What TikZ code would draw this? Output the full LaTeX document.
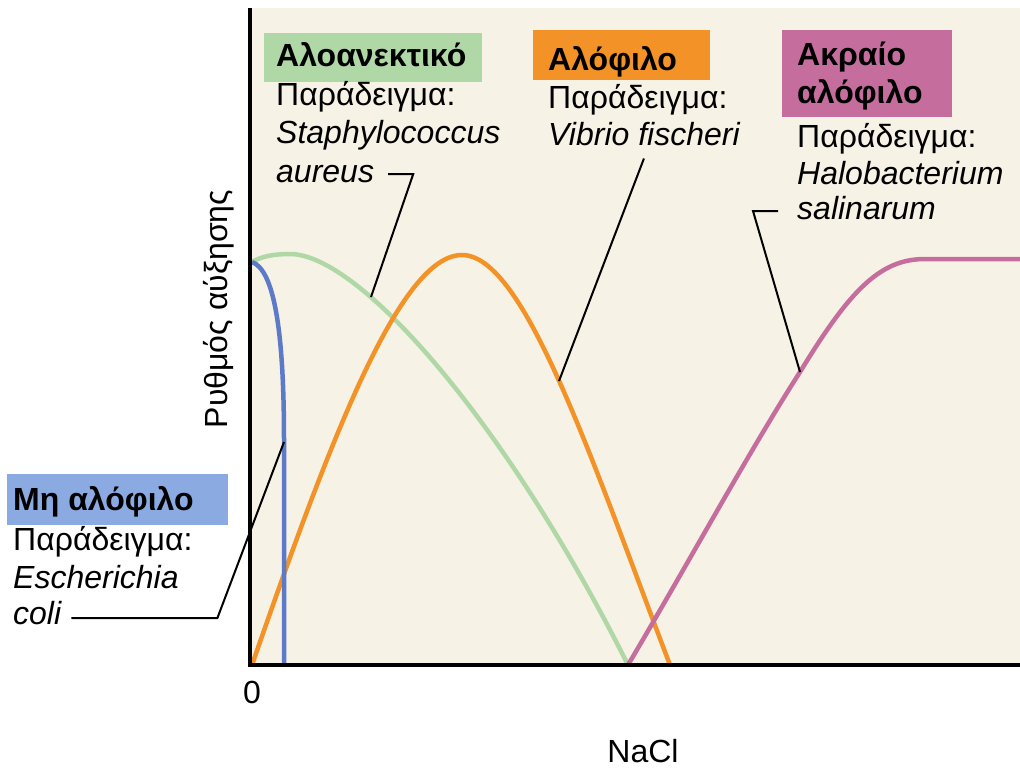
\documentclass[tikz,border=0pt]{standalone}
\usepackage{fontspec}
\setmainfont{Liberation Sans}
\usepackage{tikz}

\definecolor{cream}{RGB}{247,242,230}
\definecolor{tolgreen}{RGB}{176,216,166}
\definecolor{halorange}{RGB}{243,146,38}
\definecolor{extpink}{RGB}{197,110,158}
\definecolor{nonblue}{RGB}{92,122,200}
\definecolor{nonbox}{RGB}{139,170,226}

\tikzset{
  txt/.style={inner sep=0pt, anchor=base west, font=\fontsize{32}{38}\selectfont},
  ttl/.style={txt, font=\fontsize{32}{38}\selectfont\bfseries},
  ex/.style={txt, font=\fontsize{32}{38}\selectfont\itshape},
  tagbox/.style={inner sep=0pt, anchor=north west},
  curve/.style={line width=4.5pt},
  leader/.style={line width=2pt},
  axis/.style={line width=4pt, line join=miter}
}

\begin{document}
\begin{tikzpicture}[x=1pt, y=-1pt]
    \useasboundingbox (0, 0) rectangle (1020, 769);
    \fill[cream] (250, 8) rectangle (1020, 665);

    \node[tagbox, fill=tolgreen, minimum width=218pt, minimum height=49pt] (tolbox) at (264, 33) {};
    \node[ttl] (tol) at (276, 66) {Αλοανεκτικό};
    \node[txt] (tolex) at (276, 105) {Παράδειγμα:};
    \node[ex] (staph) at (276, 143) {Staphylococcus};
    \node[ex] (aureus) at (276, 182) {aureus};

    \node[tagbox, fill=halorange, minimum width=177pt, minimum height=50pt] (halbox) at (533, 30) {};
    \node[ttl] (hal) at (548, 70) {Αλόφιλο};
    \node[txt] (halex) at (548, 108) {Παράδειγμα:};
    \node[ex] (vibrio) at (548, 145) {Vibrio fischeri};

    \node[tagbox, fill=extpink, minimum width=170pt, minimum height=87pt] (extbox) at (782, 30) {};
    \node[ttl] (ext) at (797, 65) {Ακραίο};
    \node[ttl] (exttwo) at (797, 103) {αλόφιλο};
    \node[txt] (extex) at (797, 147) {Παράδειγμα:};
    \node[ex] (halob) at (797, 184) {Halobacterium};
    \node[ex] (salinarum) at (797, 219) {salinarum};

    \node[tagbox, fill=nonbox, minimum width=221pt, minimum height=51pt] (nonbox) at (7, 474) {};
    \node[ttl] (non) at (13, 510) {Μη αλόφιλο};
    \node[txt] (nonex) at (13, 550) {Παράδειγμα:};
    \node[ex] (esch) at (13, 588) {Escherichia};
    \node[ex] (coli) at (13, 624) {coli};

    \draw[curve, tolgreen] (252, 262) .. controls (262, 256) and (275, 254) .. (290, 254)
      .. controls (360, 254) and (508, 425) .. (628, 665);
    \draw[curve, halorange] (252, 665) .. controls (330, 440) and (400, 255) .. (462, 255)
      .. controls (524, 255) and (590, 455) .. (670, 665);
    \draw[curve, extpink] (628, 665) .. controls (690, 560) and (750, 450) .. (800, 372)
      .. controls (850, 290) and (880, 259) .. (925, 259) -- (1020, 259);
    \draw[curve, nonblue] (252, 262) .. controls (274, 270) and (284, 330) .. (284, 440) -- (284, 665);

    \coordinate (staphtip) at (371, 297);
    \coordinate (vibtip) at (559, 381);
    \coordinate (halotip) at (800, 372);
    \coordinate (colitip) at (284, 442);

    \draw[leader] ([shift={(14pt,8pt)}]aureus.base east) -- ++(25, 0) -- (staphtip);
    \draw[leader] ([yshift=-13pt]vibrio.south) -- (vibtip);
    \draw[leader] ([shift={(-19pt,8pt)}]salinarum.base west) -- ++(-25, 0) -- (halotip);
    \draw[leader] ([shift={(10pt,6pt)}]coli.base east) -- ++(146, 0) -- (colitip);

    \draw[axis] (250, 8) -- (250, 665) -- (1020, 665);

    \node[txt, anchor=base] (zero) at (252, 703) {0};
    \node[txt, anchor=base] (nacl) at (643, 762) {NaCl};
    \node[txt, anchor=base, rotate=90] (rate) at (227, 309) {Ρυθμός αύξησης};
\end{tikzpicture}
\end{document}
